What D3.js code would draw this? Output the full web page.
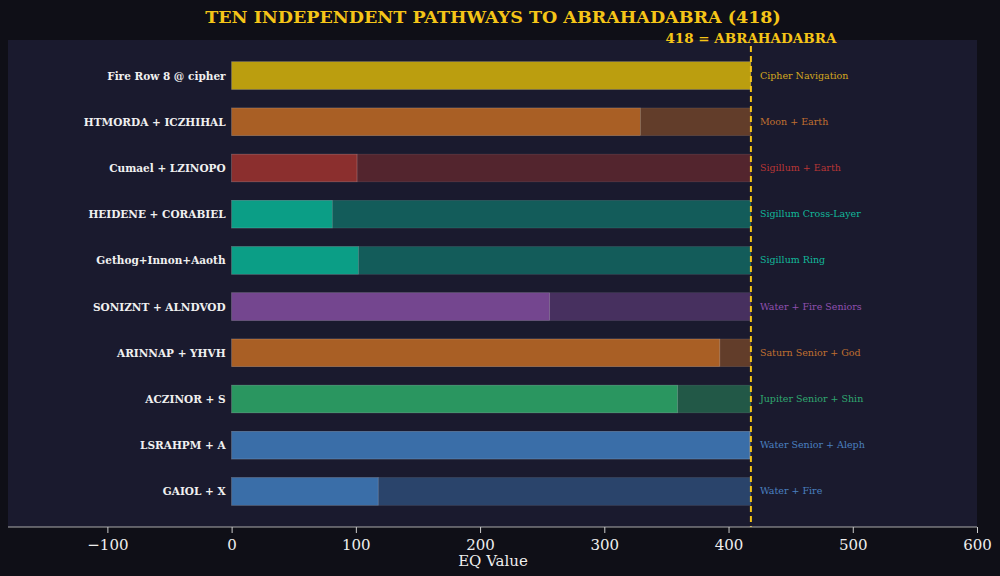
<!DOCTYPE html><html><head><meta charset="utf-8"><script src="https://d3js.org/d3.v7.min.js"></script>
<style>body{margin:0;background:#0f0f17}</style></head><body><svg id="c" width="1000" height="576"></svg>
<script>
const labels=["Fire Row 8 @ cipher","HTMORDA + ICZHIHAL","Cumael + LZINOPO","HEIDENE + CORABIEL","Gethog+Innon+Aaoth","SONIZNT + ALNDVOD","ARINNAP + YHVH","ACZINOR + S","LSRAHPM + A","GAIOL + X"];
const firstVals=[418,329,101,81,102,256,393,359,417,118];
const secondVals=[0,89,317,337,316,162,25,59,1,300];
const notes=["Cipher Navigation","Moon + Earth","Sigillum + Earth","Sigillum Cross-Layer","Sigillum Ring","Water + Fire Seniors","Saturn Senior + God","Jupiter Senior + Shin","Water Senior + Aleph","Water + Fire"];
const colors=["#bb9e0f","#a95f25","#8b2f2e","#0b9e86","#0b9e86","#74468f","#a95f25","#2a9660","#3a6ea8","#3a6ea8"];
const noteColors=["#d4a820","#c07030","#b83636","#12b89a","#12b89a","#9050b0","#c07030","#30a870","#4a80c0","#4a80c0"];
const ticks=[-100,0,100,200,300,400,500,600];
const target=418;
const svg=d3.select("#c"),F="DejaVu Serif, serif";
const x=d3.scaleLinear().domain([-180,600]).range([8,977]);
const y=d3.scaleBand().domain(labels).range([40,527]).paddingInner(0.4).paddingOuter(0.47);
svg.append("rect").attr("x",8).attr("y",40).attr("width",969).attr("height",487).attr("fill","#1a1a2e");
labels.forEach((l,i)=>{
 svg.append("rect").attr("x",x(0)).attr("y",y(l)).attr("width",x(firstVals[i])-x(0)).attr("height",y.bandwidth()).attr("fill",colors[i]).attr("stroke","rgba(255,255,255,0.3)").attr("stroke-width",0.6);
 if(secondVals[i]>0) svg.append("rect").attr("x",x(firstVals[i])).attr("y",y(l)).attr("width",x(firstVals[i]+secondVals[i])-x(firstVals[i])).attr("height",y.bandwidth()).attr("fill",colors[i]).attr("fill-opacity",0.5).attr("stroke","rgba(255,255,255,0.15)").attr("stroke-width",0.6);
 svg.append("text").attr("x",x(0)-6).attr("y",y(l)+y.bandwidth()/2+4).attr("text-anchor","end").attr("font-family",F).attr("font-weight","bold").attr("font-size",10.5).attr("fill","#f0f0f0").text(l);
 svg.append("text").attr("x",x(target)+9).attr("y",y(l)+y.bandwidth()/2+3).attr("font-family",F).attr("font-size",9.5).attr("fill",noteColors[i]).text(notes[i]);
});
svg.append("line").attr("x1",x(target)).attr("x2",x(target)).attr("y1",46).attr("y2",527).attr("stroke","#f5c518").attr("stroke-width",2).attr("stroke-dasharray","6,4");
svg.append("text").attr("x",x(target)).attr("y",43).attr("text-anchor","middle").attr("font-family",F).attr("font-weight","bold").attr("font-size",13.5).attr("fill","#f5c518").text("418 = ABRAHADABRA");
svg.append("text").attr("x",493).attr("y",23).attr("text-anchor","middle").attr("font-family",F).attr("font-weight","bold").attr("font-size",17.5).attr("fill","#f5c518").text("TEN INDEPENDENT PATHWAYS TO ABRAHADABRA (418)");
const ax=svg.append("g").attr("transform","translate(0,527)").call(d3.axisBottom(x).tickValues(ticks).tickFormat(d=>d<0?"\u2212"+(-d):d).tickSizeOuter(0));
ax.select(".domain").attr("stroke","#aaa").attr("d","M8,0H977");
ax.selectAll("line").attr("stroke","#ccc");
ax.selectAll("text").attr("fill","#eee").attr("font-family",F).attr("font-size",15).attr("dy","0.9em");
svg.append("text").attr("x",493).attr("y",566).attr("text-anchor","middle").attr("font-family",F).attr("font-size",15).attr("fill","#eee").text("EQ Value");
</script></body></html>
